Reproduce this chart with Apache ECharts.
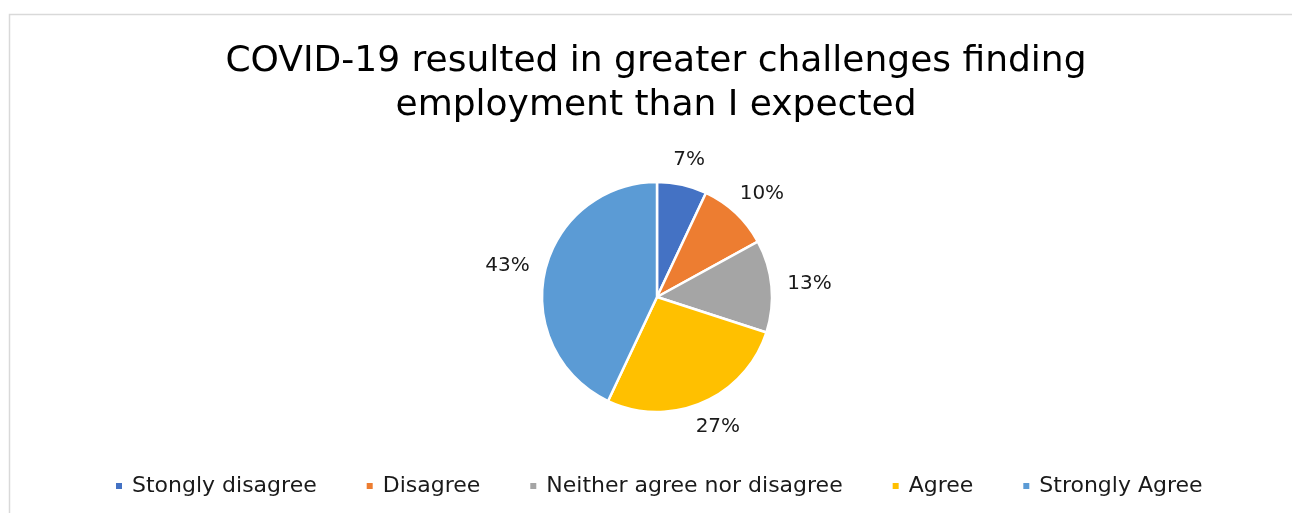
<!DOCTYPE html>
<html>
<head>
<meta charset="utf-8">
<script src="https://cdn.jsdelivr.net/npm/echarts@6/dist/echarts.min.js"></script>
<style>
  html, body { margin: 0; padding: 0; background: #fff; }
  #chart { width: 1292px; height: 513px; }
</style>
</head>
<body>
<div id="chart"></div>
<script>
// Survey answers and their share of respondents (%)
const categories = ['Stongly disagree', 'Disagree', 'Neither agree nor disagree', 'Agree', 'Strongly Agree'];
const shares = [7, 10, 13, 27, 43];
const colors = ['#4472C4', '#ED7D31', '#A5A5A5', '#FFC000', '#5B9BD5'];

const W = 1292, H = 513;
const CX = 657, CY = 297, R = 115;     // pie centre and radius (px)
const LABEL_GAP = 16;                  // gap between the rim and the nearest side of a label
const FONT = '"DejaVu Sans", sans-serif';

const total = shares.reduce((a, b) => a + b, 0);
const cumulative = shares.map((v, i) => shares.slice(0, i).reduce((a, b) => a + b, 0));

const chart = echarts.init(document.getElementById('chart'), null, { renderer: 'canvas' });

chart.setOption({
  backgroundColor: '#fff',
  animation: false,
  color: colors,
  graphic: [{
    type: 'rect',
    shape: { x: 9.5, y: 14.5, width: W + 20, height: H + 20 },
    style: { fill: 'none', stroke: '#d9d9d9', lineWidth: 1.5 },
    silent: true
  }],
  title: {
    text: 'COVID-19 resulted in greater challenges finding\nemployment than I expected',
    left: 651,
    top: 35,
    textAlign: 'center',
    textStyle: {
      fontFamily: FONT,
      fontWeight: 'normal',
      fontSize: 36,
      lineHeight: 44,
      color: '#000'
    }
  },
  legend: {
    data: categories,
    bottom: 11,
    left: 109,
    icon: 'rect',
    itemWidth: 8,
    itemHeight: 8,
    itemGap: 48,
    textStyle: { fontFamily: FONT, fontSize: 22, color: '#1a1a1a', padding: [0, 0, 0, 4] }
  },
  series: [{
    type: 'pie',
    center: [CX, CY],
    radius: R,
    startAngle: 90,
    clockwise: true,
    avoidLabelOverlap: false,
    itemStyle: { borderColor: '#fff', borderWidth: 2.5 },
    label: {
      show: true,
      formatter: '{c}%',
      fontFamily: FONT,
      fontSize: 20,
      color: '#1a1a1a'
    },
    labelLine: { show: false },
    // Each label sits outside the rim on its slice's bisector,
    // pushed out by half its own box so it never touches the pie.
    labelLayout: function (p) {
      const i = p.dataIndex;
      const mid = (cumulative[i] + shares[i] / 2) / total * Math.PI * 2;
      const s = Math.sin(mid), c = Math.cos(mid);
      const w = p.labelRect.width, h = p.labelRect.height;
      const d = R + LABEL_GAP;
      return {
        x: CX + d * s + (w / 2) * s,
        y: CY - d * c - (h / 2) * c,
        align: 'center',
        verticalAlign: 'middle'
      };
    },
    data: categories.map((name, i) => ({ name, value: shares[i] }))
  }]
});
</script>
</body>
</html>
